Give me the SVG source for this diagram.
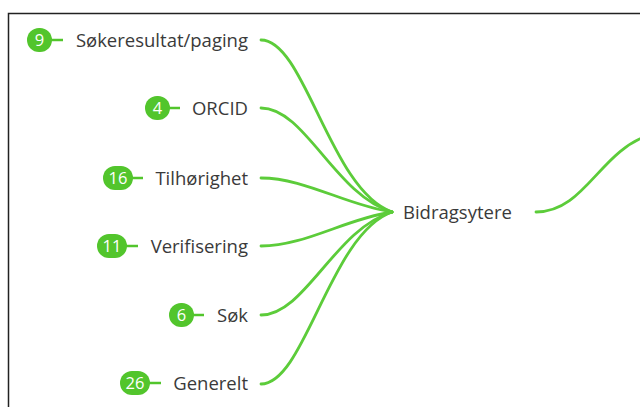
<svg xmlns="http://www.w3.org/2000/svg" width="640" height="407" viewBox="0 0 640 407">
<style>
.lbl{font-family:"Open Sans","Liberation Sans",sans-serif;font-size:18.5px;fill:#3a3a3a}
.num{font-family:"Open Sans","Liberation Sans",sans-serif;font-size:16.5px;fill:#ffffff;text-anchor:middle}
.badge{fill:#52c52c}
.dash{stroke:#52c52c;stroke-width:2.5;fill:none}
.con{stroke:#5ccc3a;stroke-width:2.8;fill:none;stroke-linecap:round}
</style>
<rect x="0" y="0" width="640" height="407" fill="#ffffff"/>
<path d="M8.5,420 V13.5 H650" fill="none" stroke="#222222" stroke-width="1.5"/>
<g id="connectors">
<path class="con" d="M261,40 C305,40 330,190 392,212"/>
<path class="con" d="M261,108 C305,108 335,195 392,212"/>
<path class="con" d="M261,178 C305,178 345,205 392,212"/>
<path class="con" d="M261,246 C305,246 345,219 392,212"/>
<path class="con" d="M261,315 C305,315 335,229 392,212"/>
<path class="con" d="M261,384 C305,384 330,234 392,212"/>
<path class="con" d="M536,212 C585,212 600,150 650,135"/>
</g>
<g id="node-bidragsytere"><text class="lbl" x="403" y="218.5">Bidragsytere</text></g>
<g id="node-sokeresultat">
<rect class="badge" x="27" y="28" width="25" height="24" rx="12"/>
<text class="num" x="39.5" y="46">9</text>
<line class="dash" x1="51" y1="40" x2="63" y2="40"/>
<text class="lbl" x="248" y="46.5" text-anchor="end">Søkeresultat/paging</text>
</g>
<g id="node-orcid">
<rect class="badge" x="145" y="96" width="25" height="24" rx="12"/>
<text class="num" x="157.5" y="114">4</text>
<line class="dash" x1="169" y1="108" x2="180" y2="108"/>
<text class="lbl" x="248" y="114.5" text-anchor="end">ORCID</text>
</g>
<g id="node-tilhorighet">
<rect class="badge" x="103" y="166" width="30" height="24" rx="12"/>
<text class="num" x="118" y="184">16</text>
<line class="dash" x1="132" y1="178" x2="143" y2="178"/>
<text class="lbl" x="248" y="184.5" text-anchor="end">Tilhørighet</text>
</g>
<g id="node-verifisering">
<rect class="badge" x="97" y="234" width="30" height="24" rx="12"/>
<text class="num" x="112" y="252">11</text>
<line class="dash" x1="126" y1="246" x2="138" y2="246"/>
<text class="lbl" x="248" y="252.5" text-anchor="end">Verifisering</text>
</g>
<g id="node-sok">
<rect class="badge" x="169" y="303" width="25" height="24" rx="12"/>
<text class="num" x="181.5" y="321">6</text>
<line class="dash" x1="193" y1="315" x2="204" y2="315"/>
<text class="lbl" x="248" y="321.5" text-anchor="end">Søk</text>
</g>
<g id="node-generelt">
<rect class="badge" x="120" y="371" width="30" height="24" rx="12"/>
<text class="num" x="135" y="389">26</text>
<line class="dash" x1="149" y1="383" x2="161" y2="383"/>
<text class="lbl" x="248" y="389.5" text-anchor="end">Generelt</text>
</g>
</svg>
